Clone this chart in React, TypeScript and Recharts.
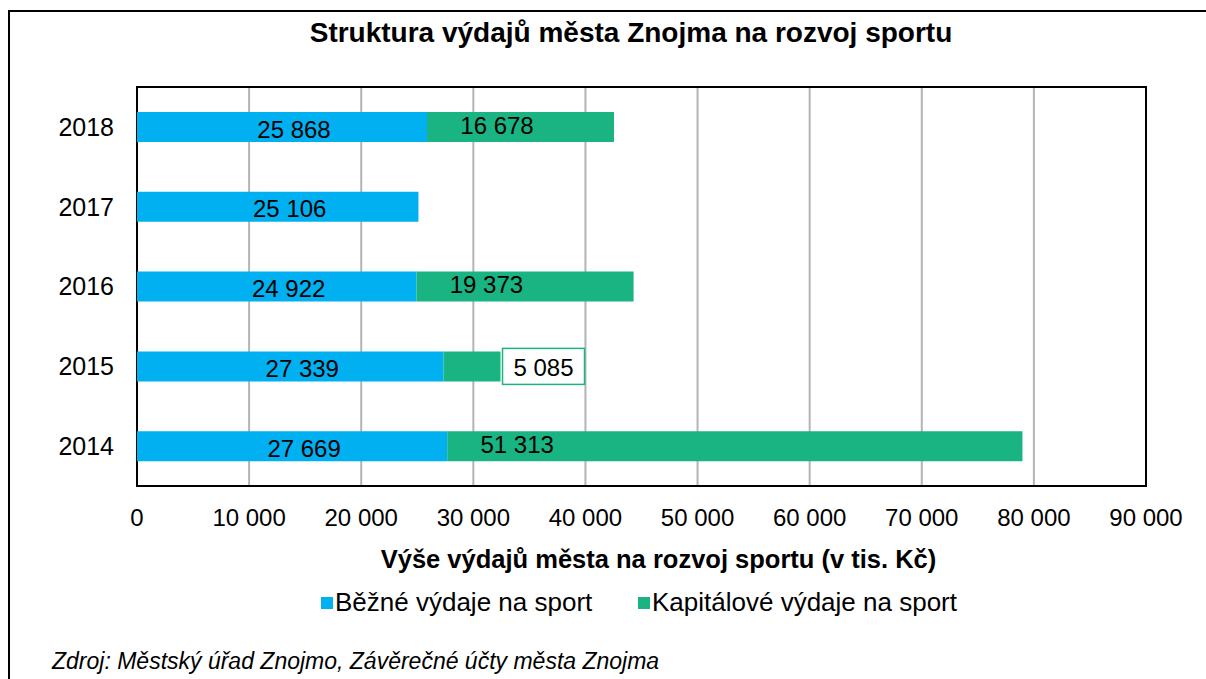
import React from 'react';
import {
    BarChart,
    Bar,
    XAxis,
    YAxis,
    CartesianGrid,
    ReferenceArea,
    LabelList,
} from 'recharts';

// Data (tis. Kč)
const years = ['2018', '2017', '2016', '2015', '2014'];
const bezne = [25868, 25106, 24922, 27339, 27669];
const kapitalove = [16678, 0, 19373, 5085, 51313];
const xTicks = [0, 10000, 20000, 30000, 40000, 50000, 60000, 70000, 80000, 90000];

const BLUE = '#00B0F0';
const GREEN = '#1AB483';
const FONT = '"Liberation Sans", Arial, sans-serif';

const data = years.map((year, i) => ({
    year,
    bezne: bezne[i],
    kapitalove: kapitalove[i] || null,
}));

const fmt = (v: number) => String(Math.round(v)).replace(/\B(?=(\d{3})+(?!\d))/g, ' ');

// blue labels: roughly centred in the bar
const BlueLabel = (props: any) => {
    const { x, y, width, height, value } = props;
    if (!value) return null;
    return (
        <text x={x + width / 2 + 12} y={y + height / 2 + 2} textAnchor="middle" dominantBaseline="central"
            fontSize={24} fontFamily={FONT} fill="#000">
            {fmt(value)}
        </text>
    );
};

// green labels: near the start of the bar, small ones boxed outside
const GreenLabel = (props: any) => {
    const { x, y, width, height, value } = props;
    if (!value) return null;
    const cy = y + height / 2;
    if (width < 80) {
        const bx = x + width + 2;
        return (
            <g>
                <rect x={bx} y={cy - 18} width={82} height={36} fill="#fff" stroke={GREEN} strokeWidth={1.5} />
                <text x={bx + 41} y={cy + 1} textAnchor="middle" dominantBaseline="central"
                    fontSize={24} fontFamily={FONT} fill="#000">
                    {fmt(value)}
                </text>
            </g>
        );
    }
    return (
        <text x={x + Math.min(width / 2, 70)} y={cy - 2} textAnchor="middle" dominantBaseline="central"
            fontSize={24} fontFamily={FONT} fill="#000">
            {fmt(value)}
        </text>
    );
};

export default function App() {
    return (
        <div style={{ position: 'absolute', left: 0, top: 0, width: 1206, height: 679, background: '#fff', overflow: 'hidden' }}>
            {/* outer frame */}
            <div style={{ position: 'absolute', left: 8, top: 10, width: 1220, height: 700, borderLeft: '2px solid #000', borderTop: '2px solid #000' }} />
            <div style={{ position: 'absolute', left: 0, top: 17, width: 1262, textAlign: 'center', fontFamily: FONT, fontWeight: 'bold', fontSize: 28, color: '#000' }}>
                Struktura výdajů města Znojma na rozvoj sportu
            </div>
            <div style={{ position: 'absolute', left: 0, top: 0 }}>
                <BarChart
                    width={1206}
                    height={679}
                    data={data}
                    layout="vertical"
                    margin={{ top: 87, right: 60, left: 0, bottom: 133 }}
                    barSize={30}
                >
                    <CartesianGrid horizontal={false} stroke="#b4b4b4" strokeWidth={2} />
                    <XAxis
                        type="number"
                        domain={[0, 90000]}
                        ticks={xTicks}
                        tickFormatter={fmt}
                        height={60}
                        tickSize={0}
                        tickMargin={23}
                        axisLine={false}
                        tick={{ fill: '#000', fontSize: 24, fontFamily: FONT }}
                        label={{ value: 'Výše výdajů města na rozvoj sportu (v tis. Kč)', position: 'bottom', offset: 4, dx: 17, fill: '#000', fontSize: 25.5, fontWeight: 'bold', fontFamily: FONT }}
                    />
                    <YAxis
                        type="category"
                        dataKey="year"
                        width={137}
                        tickSize={0}
                        tickMargin={23}
                        axisLine={false}
                        tick={{ fill: '#000', fontSize: 25, fontFamily: FONT }}
                    />
                    <Bar dataKey="bezne" stackId="a" fill={BLUE} isAnimationActive={false}>
                        <LabelList dataKey="bezne" content={BlueLabel} />
                    </Bar>
                    <Bar dataKey="kapitalove" stackId="a" fill={GREEN} isAnimationActive={false}>
                        <LabelList dataKey="kapitalove" content={GreenLabel} />
                    </Bar>
                    <ReferenceArea x1={0} x2={90000} fill="none" fillOpacity={0} stroke="#000" strokeWidth={2} ifOverflow="visible" />
                </BarChart>
            </div>
            {/* legend */}
            <div style={{ position: 'absolute', left: 321, top: 587, display: 'flex', fontFamily: FONT, fontSize: 26, color: '#000', whiteSpace: 'nowrap' }}>
                <span style={{ display: 'flex', alignItems: 'center' }}>
                    <span style={{ width: 12, height: 12, background: BLUE, marginRight: 2 }} />
                    Běžné výdaje na sport
                </span>
                <span style={{ display: 'flex', alignItems: 'center', position: 'absolute', left: 317 }}>
                    <span style={{ width: 12, height: 12, background: GREEN, marginRight: 2 }} />
                    Kapitálové výdaje na sport
                </span>
            </div>
            <div style={{ position: 'absolute', left: 52, top: 648, fontFamily: FONT, fontStyle: 'italic', fontSize: 23, color: '#000', whiteSpace: 'nowrap' }}>
                Zdroj: Městský úřad Znojmo, Závěrečné účty města Znojma
            </div>
        </div>
    );
}
